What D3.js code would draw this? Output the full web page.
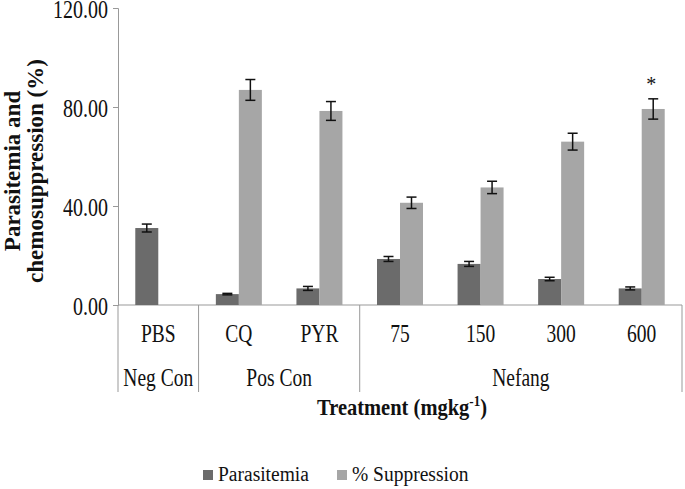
<!DOCTYPE html>
<html><head><meta charset="utf-8">
<script src="https://cdn.jsdelivr.net/npm/d3@7"></script>
<style>body{margin:0;background:#fff}svg{display:block}
svg text{font-family:"Liberation Serif","Times New Roman",Tinos,"DejaVu Serif",serif !important;}</style>
</head><body><div id="chart"></div>
<script>
const categories = ["PBS","CQ","PYR","75","150","300","600"];
const groups = [{name:"Neg Con", from:0, to:0},{name:"Pos Con", from:1, to:2},{name:"Nefang", from:3, to:6}];
const parasitemia = [31.1, 4.4, 6.7, 18.6, 16.6, 10.5, 6.7];
const parasitemiaErr = [1.6, 0.3, 0.8, 1.0, 1.0, 0.7, 0.6];
const suppression = [null, 86.9, 78.4, 41.3, 47.5, 66.0, 79.2];
const suppressionErr = [null, 4.2, 3.8, 2.3, 2.5, 3.4, 4.1];
const yTicks = [0, 40, 80, 120];
const seriesNames = ["Parasitemia", "% Suppression"];
const colors = ["#6b6b6b", "#a6a6a6"];

const W = 685, H = 489;
const m = {left:118, right:3, top:8, bottom:184};
const svg = d3.select("#chart").append("svg").attr("width", W).attr("height", H);

const x = d3.scaleBand().domain(categories).range([m.left, W - m.right]).padding(0);
const y = d3.scaleLinear().domain([0, 120]).range([H - m.bottom, m.top]);
const bw = 23;
const y0 = y(0);

function stretchedText(sel, px, py, size, anchor, sy) {
  return sel.append("text").attr("transform", `translate(${px},${py}) scale(1,${sy})`)
    .attr("text-anchor", anchor).attr("font-size", size).attr("fill", "#111");
}

// y axis
const yAxis = svg.append("g").attr("transform", `translate(${m.left},0)`)
  .call(d3.axisLeft(y).tickValues(yTicks).tickFormat(d3.format(".2f")).tickSizeOuter(0).tickSize(5));
yAxis.select(".domain").attr("stroke", "#999");
yAxis.selectAll(".tick line").attr("stroke", "#999");
yAxis.selectAll(".tick text").remove();
yTicks.forEach(t => {
  stretchedText(svg, m.left - 10, y(t) + 9.5, 20, "end", 1.25).text(d3.format(".2f")(t));
});

// x axis line and separators
svg.append("line").attr("x1", m.left).attr("x2", W - m.right).attr("y1", y0).attr("y2", y0)
  .attr("stroke", "#999");
const sepX = [m.left].concat(groups.map(g => x(categories[g.to]) + x.bandwidth()));
svg.selectAll(".sep").data(sepX).join("line")
  .attr("x1", d => d).attr("x2", d => d).attr("y1", y0).attr("y2", 392)
  .attr("stroke", "#999");

// bars
const series = [parasitemia, suppression];
const errs = [parasitemiaErr, suppressionErr];
series.forEach((vals, s) => {
  const data = categories.map((c, i) => ({c, v: vals[i], e: errs[s][i]})).filter(d => d.v != null);
  const cx = d => x(d.c) + x.bandwidth() / 2 + (s === 0 ? -bw : 0);
  svg.append("g").selectAll("rect").data(data).join("rect")
    .attr("x", cx).attr("width", bw)
    .attr("y", d => y(d.v)).attr("height", d => y0 - y(d.v))
    .attr("fill", colors[s]);
  const eg = svg.append("g").attr("stroke", "#111").attr("stroke-width", 1.5);
  data.forEach(d => {
    const mx = cx(d) + bw / 2;
    eg.append("line").attr("x1", mx).attr("x2", mx).attr("y1", y(d.v + d.e)).attr("y2", y(d.v - d.e));
    eg.append("line").attr("x1", mx - 5).attr("x2", mx + 5).attr("y1", y(d.v + d.e)).attr("y2", y(d.v + d.e));
    eg.append("line").attr("x1", mx - 5).attr("x2", mx + 5).attr("y1", y(d.v - d.e)).attr("y2", y(d.v - d.e));
  });
});

// asterisk
const last = categories.length - 1;
svg.append("text").attr("x", x(categories[last]) + x.bandwidth() / 2 + bw / 2 - 2)
  .attr("y", y(suppression[last] + suppressionErr[last]) - 8)
  .attr("text-anchor", "middle").attr("font-size", 20).attr("fill", "#111").text("*");

// category labels
categories.forEach(c => {
  stretchedText(svg, x(c) + x.bandwidth() / 2, 342, 19.5, "middle", 1.25).text(c);
});

// group labels
groups.forEach(g => {
  stretchedText(svg, (x(categories[g.from]) + x(categories[g.to]) + x.bandwidth()) / 2, 386, 19.5, "middle", 1.3).text(g.name);
});

// x title
const xt = stretchedText(svg, 402, 415, 20.5, "middle", 1.08).attr("font-weight", "bold");
xt.append("tspan").text("Treatment (mgkg");
xt.append("tspan").attr("font-size", 13).attr("dy", -8).text("-1");
xt.append("tspan").attr("dy", 8).text(")");

// y title
const yt = svg.append("text").attr("transform", "translate(0,171) rotate(-90)")
  .attr("text-anchor", "middle").attr("font-size", 23).attr("font-weight", "bold").attr("fill", "#111");
yt.append("tspan").attr("x", 0).attr("y", 20).text("Parasitemia and");
yt.append("tspan").attr("x", 0).attr("y", 43).text("chemosuppression (%)");

// legend
const legX = [203, 337];
seriesNames.forEach((n, i) => {
  svg.append("rect").attr("x", legX[i]).attr("y", 470).attr("width", 10).attr("height", 10).attr("fill", colors[i]);
  stretchedText(svg, legX[i] + 15, 481, 19.5, "start", 1.08).text(n);
});
</script></body></html>
